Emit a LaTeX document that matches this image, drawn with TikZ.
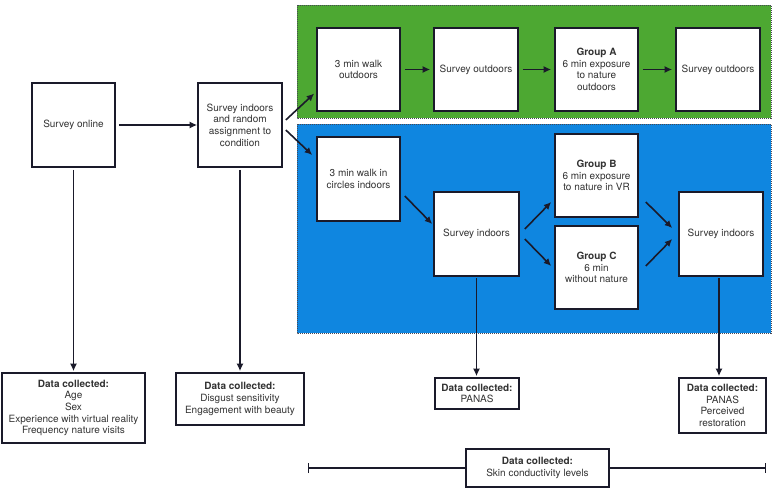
\documentclass[tikz,border=0pt]{standalone}
\usepackage{fontspec}
\setmainfont{TeX Gyre Heros}
\usetikzlibrary{arrows.meta,calc}
\definecolor{grn}{HTML}{4DA832}
\definecolor{blu}{HTML}{0F86E0}
\definecolor{edge}{HTML}{1A1A2A}
\begin{document}
\begin{tikzpicture}[x=1pt,y=-1pt,
  box/.style={draw=edge,line width=1.6pt,fill=white,align=center,inner sep=2pt,
    font=\fontsize{10}{11.7}\selectfont,text=black!80},
  sq/.style={box,minimum width=#1,minimum height=84pt},
  datab/.style={box},
  conn/.style={draw=edge,line width=1.6pt,-{Latex[length=7.5pt,width=7pt]}},
  region/.style={draw=edge!80,line width=1pt,dash pattern=on 1pt off 1pt}
]
\useasboundingbox[fill=white] (0,0) rectangle (777,490);
% regions
\path[region,fill=grn] (297,5) rectangle (771,118);
\path[region,fill=blu] (297,124) rectangle (771,333);
% first column
\node[sq=83pt] (online) at (73.5,125) {Survey online};
\node[sq=84pt] (indoors) at (240,125) {Survey indoors\\and random\\assignment to\\condition};
% green row
\node[sq=83pt,minimum height=83pt] (walkout) at (358.5,69.5) {3 min walk\\outdoors};
\node[sq=84pt,minimum height=83pt] (survout1) at (476,69.5) {Survey outdoors};
\node[sq=83pt,minimum height=83pt] (groupA) at (596.5,69.5) {\textbf{Group A}\\6 min exposure\\to nature\\outdoors};
\node[sq=84pt,minimum height=83pt] (survout2) at (718,69.5) {Survey outdoors};
% blue part
\node[sq=83pt] (walkin) at (358.5,179) {3 min walk in\\circles indoors};
\node[sq=85pt] (survin1) at (476.5,234) {Survey indoors};
\node[sq=83pt,minimum height=83pt] (groupB) at (596.5,175.5) {\textbf{Group B}\\6 min exposure\\to nature in VR};
\node[sq=83pt,minimum height=83pt] (groupC) at (596.5,267.5) {\textbf{Group C}\\6 min\\without nature};
\node[sq=84pt] (survin2) at (721,234) {Survey indoors};
% data boxes
\node[datab,minimum width=143pt,minimum height=70pt] (d1) at (73.5,408)
  {\textbf{Data collected:}\\Age\\Sex\\Experience with virtual reality\\Frequency nature visits};
\node[datab,minimum width=128pt,minimum height=52pt] (d2) at (240,399)
  {\textbf{Data collected:}\\Disgust sensitivity\\Engagement with beauty};
\node[datab,minimum width=84pt,minimum height=31pt] (d3) at (477,393.5)
  {\textbf{Data collected:}\\PANAS};
\node[datab,minimum width=87pt,minimum height=55pt] (d4) at (722.5,405.5)
  {\textbf{Data collected:}\\PANAS\\Perceived\\restoration};
\coordinate (L) at (308,468);
\coordinate (R) at (766,468);
\node[datab,minimum width=143pt,minimum height=38pt] (skin) at (537.5,468)
  {\textbf{Data collected:}\\Skin conductivity levels};
% connectors
\draw[conn,shorten <=3pt] (online.east) -- (indoors.west);
\draw[conn] ($(indoors.east)+(3,-5)$) -- ($(walkout.west)+(-2,24)$);
\draw[conn] ($(indoors.east)+(3,5)$) -- ($(walkin.west)+(-4,-24)$);
\draw[conn,shorten <=4pt,shorten >=3pt] (walkout.east) -- (survout1.west);
\draw[conn,shorten <=4pt,shorten >=3pt] (survout1.east) -- (groupA.west);
\draw[conn,shorten <=4pt,shorten >=3pt] (groupA.east) -- (survout2.west);
\draw[conn] ($(walkin.east)+(4,17)$) -- ($(survin1.west)+(-1,-10)$);
\draw[conn] ($(survin1.east)+(5,-5)$) -- ($(groupB.west)+(-3,26.5)$);
\draw[conn] ($(survin1.east)+(5,5)$) -- ($(groupC.west)+(-3,-1.5)$);
\draw[conn] ($(groupB.east)+(7,26.5)$) -- ($(survin2.west)+(-6,-6)$);
\draw[conn] ($(groupC.east)+(7,-1.5)$) -- ($(survin2.west)+(-6,5)$);
\draw[conn,shorten <=2pt,shorten >=1pt] (online.south) -- (d1.north);
\draw[conn,shorten <=2pt,shorten >=1pt] (indoors.south) -- (d2.north);
\draw[conn,shorten <=1pt,shorten >=1pt] (survin1.south) -- (survin1.south |- d3.north);
\draw[conn,shorten <=1pt,shorten >=1pt] ($(survin2.south)+(-2,0)$) -- ($(survin2.south |- d4.north)+(-2,0)$);
\draw[draw=edge,line width=1.3pt,{Bar[width=10pt]}-] (L) -- (skin.west);
\draw[draw=edge,line width=1.3pt,-{Bar[width=10pt]}] (skin.east) -- (R);
\end{tikzpicture}
\end{document}
